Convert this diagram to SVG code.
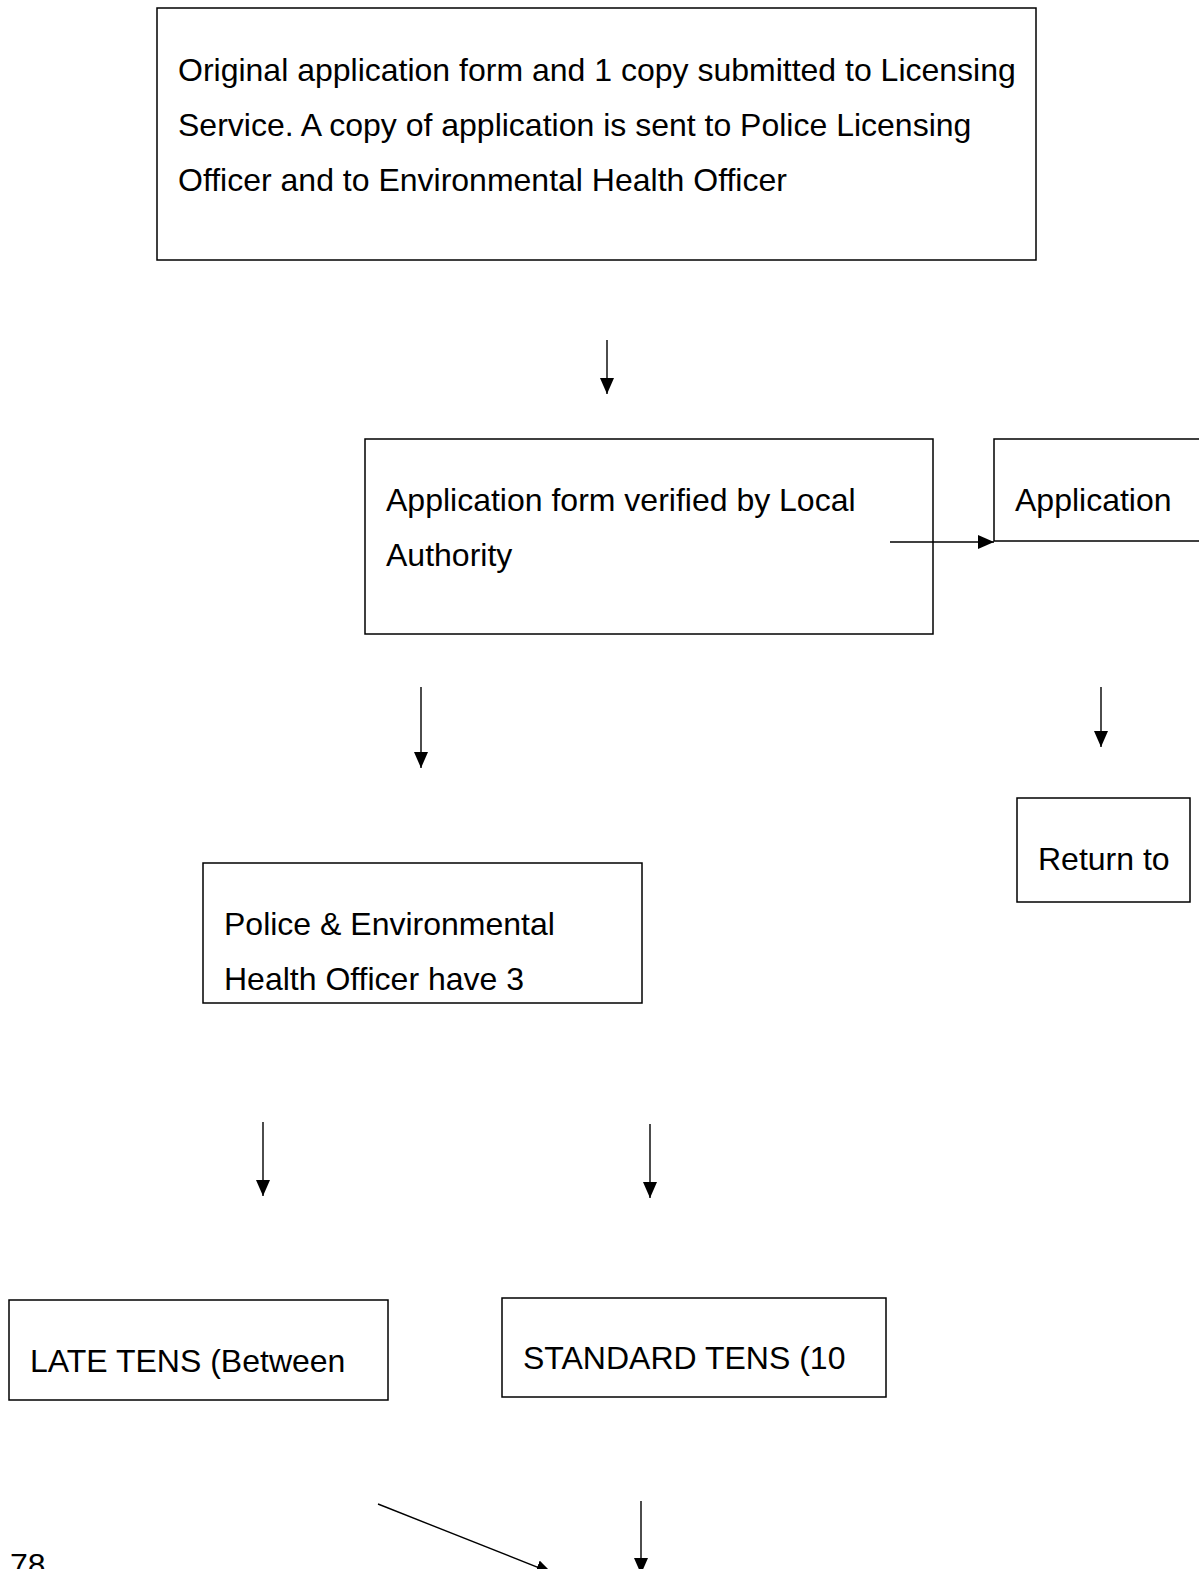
<svg xmlns="http://www.w3.org/2000/svg" width="1199" height="1569" viewBox="0 0 1199 1569">
<style>
.box{fill:#fff;stroke:#000;stroke-width:1.5}
.t{font-family:"Liberation Sans",Arial,sans-serif;font-size:32px;fill:#000}
.c{stroke:#000;stroke-width:1.4;fill:none}
</style>
<defs>
<marker id="ah" markerWidth="16" markerHeight="14" refX="16" refY="7" orient="auto" markerUnits="userSpaceOnUse">
<path d="M0,0 L16,7 L0,14 Z" fill="#000"/>
</marker>
</defs>
<rect width="1199" height="1569" fill="#fff"/>
<g id="n1"><rect class="box" x="157" y="8" width="879" height="252"/>
<text class="t" x="178" y="81">Original application form and 1 copy submitted to Licensing</text>
<text class="t" x="178" y="136">Service. A copy of application is sent to Police Licensing</text>
<text class="t" x="178" y="191">Officer and to Environmental Health Officer</text></g>
<g id="n2"><rect class="box" x="365" y="439" width="568" height="195"/>
<text class="t" x="386" y="511">Application form verified by Local</text>
<text class="t" x="386" y="566">Authority</text></g>
<g id="n3"><rect class="box" x="994" y="439" width="210" height="102"/>
<text class="t" x="1015" y="511">Application</text></g>
<g id="n4"><rect class="box" x="1017" y="798" width="173" height="104"/>
<text class="t" x="1038" y="870">Return to</text></g>
<g id="n5"><rect class="box" x="203" y="863" width="439" height="140"/>
<text class="t" x="224" y="935">Police &amp; Environmental</text>
<text class="t" x="224" y="990">Health Officer have 3</text></g>
<g id="n6"><rect class="box" x="9" y="1300" width="379" height="100"/>
<text class="t" x="30" y="1372">LATE TENS (Between</text></g>
<g id="n7"><rect class="box" x="502" y="1298" width="384" height="99"/>
<text class="t" x="523" y="1369">STANDARD TENS (10</text></g>
<text class="t" x="10" y="1576">78</text>
<g id="connectors">
<line class="c" x1="607" y1="340" x2="607" y2="394" marker-end="url(#ah)"/>
<line class="c" x1="890" y1="542" x2="994" y2="542" marker-end="url(#ah)"/>
<line class="c" x1="421" y1="687" x2="421" y2="768" marker-end="url(#ah)"/>
<line class="c" x1="1101" y1="687" x2="1101" y2="747" marker-end="url(#ah)"/>
<line class="c" x1="263" y1="1122" x2="263" y2="1196" marker-end="url(#ah)"/>
<line class="c" x1="650" y1="1124" x2="650" y2="1198" marker-end="url(#ah)"/>
<line class="c" x1="378" y1="1504" x2="552" y2="1573" marker-end="url(#ah)"/>
<line class="c" x1="641" y1="1501" x2="641" y2="1574" marker-end="url(#ah)"/>
</g>
</svg>
